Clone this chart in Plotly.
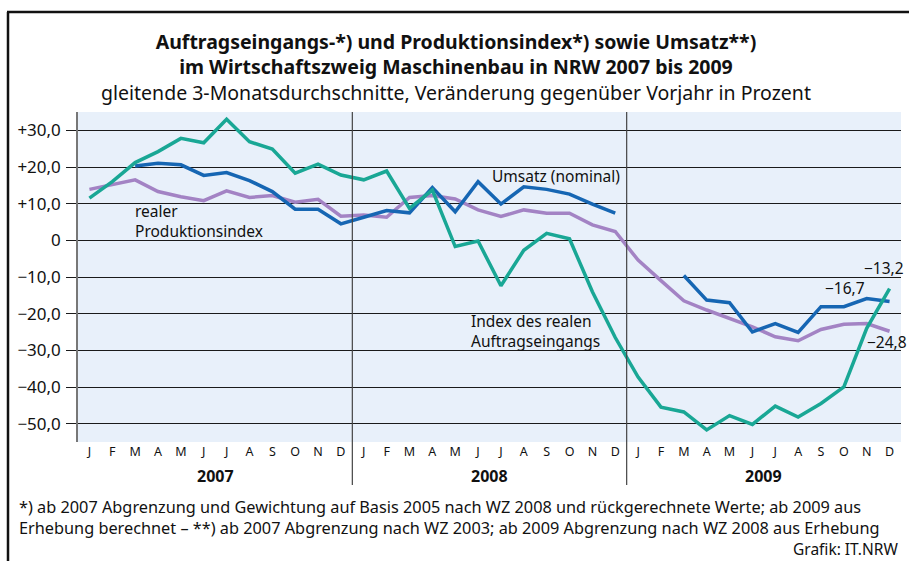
import plotly.graph_objects as go

months = ["J", "F", "M", "A", "M", "J", "J", "A", "S", "O", "N", "D"] * 3
years = ["2007", "2008", "2009"]

auftrag = [11.5, 16.0, 21.2, 24.2, 27.8, 26.6, 33.0, 26.9, 24.9, 18.3, 20.8, 17.8,
           16.5, 18.9, 8.7, 13.7, -1.7, -0.2, -12.4, -2.7, 1.9, 0.4, -14.0, -26.5,
           -37.3, -45.5, -46.8, -51.7, -47.8, -50.2, -45.2, -48.2, -44.5, -40.0, -24.0, -13.2]
produktion = [13.9, 15.1, 16.5, 13.3, 11.9, 10.8, 13.5, 11.7, 12.2, 10.4, 11.2, 6.6,
              6.9, 6.3, 11.7, 12.2, 11.3, 8.3, 6.5, 8.3, 7.4, 7.4, 4.2, 2.4,
              -5.4, -11.0, -16.5, -19.0, -21.3, -23.6, -26.3, -27.4, -24.3, -22.9, -22.7, -24.8]
umsatz = [None, None, 20.3, 21.0, 20.6, 17.7, 18.5, 16.3, 13.3, 8.5, 8.5, 4.5,
          6.3, 8.1, 7.5, 14.4, 7.8, 16.0, 9.9, 14.6, 13.9, 12.6, 9.9, 7.4,
          None, None, -9.6, -16.3, -17.0, -25.0, -22.7, -25.1, -18.1, -18.1, -15.9, -16.7]

y_ticks = [30, 20, 10, 0, -10, -20, -30, -40, -50]
y_ticktext = ["+30,0", "+20,0", "+10,0", "0", "\u221210,0", "\u221220,0", "\u221230,0", "\u221240,0", "\u221250,0"]

FONT = "Noto Sans"
x = list(range(36))

fig = go.Figure()
fig.add_trace(go.Scatter(x=x, y=produktion, mode="lines", line=dict(color="#A383C4", width=3.5),
                         name="realer Produktionsindex", hoverinfo="y"))
fig.add_trace(go.Scatter(x=x, y=umsatz, mode="lines", line=dict(color="#1666B3", width=3.5),
                         name="Umsatz (nominal)", connectgaps=False, hoverinfo="y"))
fig.add_trace(go.Scatter(x=x, y=auftrag, mode="lines", line=dict(color="#19A795", width=3.5),
                         name="Index des realen Auftragseingangs", hoverinfo="y"))

W, H = 909, 561
L, R, T, B = 78, 8, 112, 119
pw, ph = W - L - R, H - T - B

def px(xp):
    return (xp - L) / pw

def py(yp):
    return (H - B - yp) / ph

shapes = []
# year separators
for xs in [11.5, 23.5]:
    shapes.append(dict(type="line", xref="x", yref="paper", x0=xs, x1=xs, y0=py(485), y1=1,
                       line=dict(color="#444", width=1.2)))
# outer frame
shapes.append(dict(type="line", xref="paper", yref="paper", x0=px(8), x1=px(8), y0=py(561), y1=py(12),
                   line=dict(color="#111", width=2.5)))
shapes.append(dict(type="line", xref="paper", yref="paper", x0=px(7), x1=px(909), y0=py(12), y1=py(12),
                   line=dict(color="#111", width=2.5)))

annotations = []
def ann(text, xp, yp, size, bold=False, xanchor="center", yanchor="middle", align="center", color="#111"):
    annotations.append(dict(text=f"<b>{text}</b>" if bold else text, xref="paper", yref="paper",
                            x=px(xp), y=py(yp), xanchor=xanchor, yanchor=yanchor, align=align,
                            showarrow=False, font=dict(family=FONT, size=size, color=color)))

ann("<b>Auftragseingangs-*) und Produktionsindex*) sowie Umsatz**)</b><br>"
    "<b>im Wirtschaftszweig Maschinenbau in NRW 2007 bis 2009</b><br>"
    "gleitende 3-Monatsdurchschnitte, Veränderung gegenüber Vorjahr in Prozent", 456, 67, 19.5)

for i, yr in enumerate(years):
    annotations.append(dict(text=f"<b>{yr}</b>", xref="x", yref="paper", x=5.5 + 12 * i, y=py(476),
                            xanchor="center", yanchor="middle", showarrow=False,
                            font=dict(family=FONT, size=16, color="#111")))

ann("Umsatz (nominal)", 490, 176, 15.5, xanchor="left")
ann("realer<br>Produktionsindex", 133, 221, 15.5, xanchor="left", align="left")
ann("Index des realen<br>Auftragseingangs", 469, 331, 15.5, xanchor="left", align="left")
ann("\u221213,2", 906, 268, 15.5, xanchor="right")
ann("\u221216,7", 867, 288, 15.5, xanchor="right")
ann("\u221224,8", 909, 342, 15.5, xanchor="right")

ann("*) ab 2007 Abgrenzung und Gewichtung auf Basis 2005 nach WZ 2008 und rückgerechnete Werte; ab 2009 aus<br>"
    "Erhebung berechnet \u2013 **) ab 2007 Abgrenzung nach WZ 2003; ab 2009 Abgrenzung nach WZ 2008 aus Erhebung",
    17, 517, 16.3, xanchor="left", align="left")
ann("Grafik: IT.NRW", 900, 549, 15.5, xanchor="right")

fig.update_layout(
    width=W, height=H,
    margin=dict(l=L, r=R, t=T, b=B),
    paper_bgcolor="white",
    plot_bgcolor="#E8F0FA",
    showlegend=False,
    font=dict(family=FONT, color="#111"),
    shapes=shapes,
    annotations=annotations,
    xaxis=dict(range=[-0.5, 35.5], tickvals=x, ticktext=months, showgrid=False, zeroline=False,
               ticks="", tickfont=dict(family=FONT, size=12.5, color="#111"), fixedrange=True),
    yaxis=dict(range=[-55, 35], tickvals=y_ticks, ticktext=y_ticktext, showgrid=True,
               gridcolor="#1a1a1a", gridwidth=1, zeroline=False, ticks="outside", ticklen=10,
               tickcolor="#1a1a1a", tickwidth=1, showline=True, linecolor="#777", linewidth=1.5,
               tickfont=dict(family=FONT, size=17, color="#111"), ticklabelstandoff=2, fixedrange=True),
)

fig.write_html("out.html", config={"displayModeBar": False},
               post_script="document.body.style.margin='0';document.body.style.overflow='hidden';")
